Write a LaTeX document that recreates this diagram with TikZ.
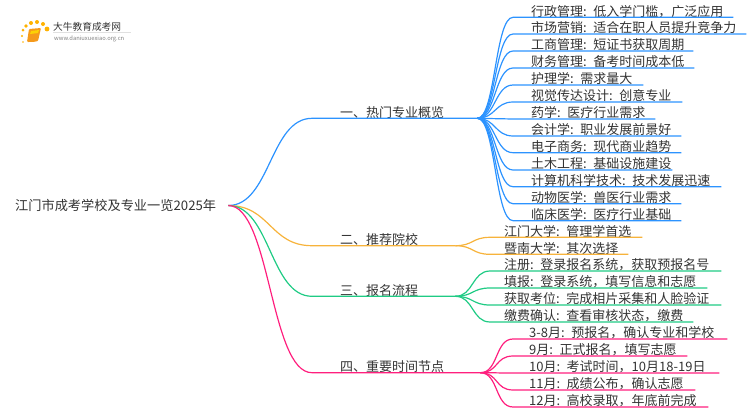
\documentclass[tikz,border=0pt]{standalone}
\usepackage{fontspec}
\usepackage{xcolor}
\setmainfont{Noto Sans CJK SC}
\usetikzlibrary{positioning}
\definecolor{lineblue}{HTML}{2C93FF}
\definecolor{lineorange}{HTML}{F7B33B}
\definecolor{linegreen}{HTML}{1FCB84}
\definecolor{linepink}{HTML}{FF1F7E}
\definecolor{textgray}{HTML}{333333}
\definecolor{bookorange}{HTML}{F59A1B}
\tikzset{
  label text/.style={font=\fontsize{13}{15}\selectfont, text=textgray, inner xsep=0pt, inner ysep=1pt,
    text height=11pt, text depth=0pt, anchor=south west, align=left},
  branch/.style={label text, execute at begin node={\hspace*{28pt}}},
  leaf/.style={label text, execute at begin node={\hspace*{#1}}},
  link/.style={line width=1.2pt},
}
\begin{document}
\begin{tikzpicture}[x=1pt,y=-1pt]
  \useasboundingbox (0,0) rectangle (750,410);

  % logo
  \fill[bookorange, rounded corners=1pt] (29,29) -- (41,28) -- (38,41) .. controls (34,42) .. (27,42) -- cycle;
  \fill[yellow!70!orange] (31,31) -- (39,30) -- (38,33) -- (30,34) -- cycle;
  \foreach \dx/\dy/\dr in {23/30/1.5, 26/26/1.8, 31/23/2, 37/22/2, 43/24/2, 47/29/2.4, 22/36/1.2, 23/42/.9}{
    \fill[orange!60!yellow] (\dx,\dy) circle (\dr pt);
  }
  \node[font=\fontsize{9.7}{11}\selectfont, text=textgray, inner sep=0pt, anchor=west] (logotitle) at (53,27) {大牛教育成考网};
  \node[font=\fontsize{5.8}{7}\selectfont, text=gray, inner sep=0pt, anchor=west] (logourl) at (54,39) {www.daniuxuexiao.org.cn};
  \draw[black!12, line width=.5pt] (logotitle.south west) ++(0,1) -- ++(78,0);

  % root
  \node[font=\fontsize{13.2}{15}\selectfont, text=textgray, inner xsep=12pt, inner ysep=0pt, anchor=west] (root) at (3,205.5) {江门市成考学校及专业一览2025年};

  % branches
  \node[branch, text width=165pt] (hot) at (312,118.3) {一、热门专业概览};
  \node[branch, text width=143pt] (school) at (312,245.7) {二、推荐院校};
  \node[branch, text width=143pt] (flow) at (312,296.3) {三、报名流程};
  \node[branch, text width=168pt] (time) at (312,372.7) {四、重要时间节点};
  \foreach \nm/\cl in {hot/lineblue, school/lineorange, flow/linegreen, time/linepink}{
    \draw[link, \cl] (root.east) .. controls +(42,0) and +(-42,0) .. (\nm.south west) -- (\nm.south east);
  }

  % hot majors
  \foreach \i/\ly/\lw/\txt in {
    1/17.3/220/行政管理: 低入学门槛，广泛应用,
    2/34/233/市场营销: 适合在职人员提升竞争力,
    3/51/180/工商管理: 短证书获取周期,
    4/68/181/财务管理: 备考时间成本低,
    5/85/130/护理学: 需求量大,
    6/102/169/视觉传达设计: 创意专业,
    7/119/142/药学: 医疗行业需求,
    8/136/168/会计学: 职业发展前景好,
    9/152.7/168/电子商务: 现代商业趋势,
    10/170/159/土木工程: 基础设施建设,
    11/186.7/208/计算机科学技术: 技术发展迅速,
    12/203.7/168/动物医学: 兽医行业需求,
    13/220.7/168/临床医学: 医疗行业基础}{
    \node[leaf=18pt, text width=\lw pt] (hot\i) at (513,\ly) {\txt};
    \draw[link, lineblue] (hot.south east) .. controls +(18,0) and +(-18,0) .. (hot\i.south west) -- (hot\i.south east);
  }

  % schools
  \foreach \i/\ly/\lw/\txt in {
    1/237.3/152/江门大学: 管理学首选,
    2/254.3/138/暨南大学: 其次选择}{
    \node[leaf=14pt, text width=\lw pt] (school\i) at (490,\ly) {\txt};
    \draw[link, lineorange] (school.south east) .. controls +(18,0) and +(-18,0) .. (school\i.south west) -- (school\i.south east);
  }

  % steps
  \foreach \i/\ly/\lw/\txt in {
    1/271/231/注册: 登录报名系统，获取预报名号,
    2/288/217/填报: 登录系统，填写信息和志愿,
    3/305/231/获取考位: 完成相片采集和人脸验证,
    4/322/203/缴费确认: 查看审核状态，缴费}{
    \node[leaf=14pt, text width=\lw pt] (flow\i) at (490,\ly) {\txt};
    \draw[link, linegreen] (flow.south east) .. controls +(18,0) and +(-18,0) .. (flow\i.south west) -- (flow\i.south east);
  }

  % dates
  \foreach \i/\ly/\lw/\txt in {
    1/339/214/3-8月: 预报名，确认专业和学校,
    2/356/174/9月: 正式报名，填写志愿,
    3/373/206/10月: 考试时间，10月18-19日,
    4/390/182/11月: 成绩公布，确认志愿,
    5/407/195/12月: 高校录取，年底前完成}{
    \node[leaf=16pt, text width=\lw pt] (time\i) at (513,\ly) {\txt};
    \draw[link, linepink] (time.south east) .. controls +(18,0) and +(-18,0) .. (time\i.south west) -- (time\i.south east);
  }
\end{tikzpicture}
\end{document}
